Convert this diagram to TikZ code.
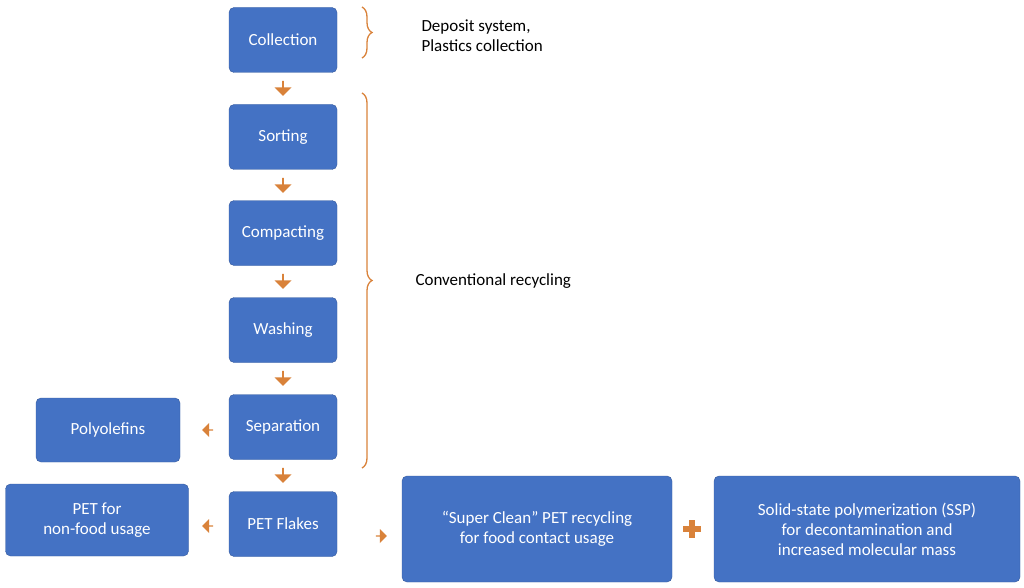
\documentclass[tikz,border=0pt]{standalone}
\usepackage{fontspec}
\setmainfont{Carlito}
\usetikzlibrary{shapes.arrows,decorations.pathreplacing}
\definecolor{boxblue}{HTML}{4472C4}
\definecolor{accent}{HTML}{D9823A}
\begin{document}
\begin{tikzpicture}[x=1pt,y=-1pt,
    stage/.style={fill=boxblue, draw=boxblue!80!black, rounded corners=5pt, text=white,
      align=center, font=\fontsize{17}{20}\selectfont, inner sep=0pt},
    blk/.style={single arrow, fill=accent, draw=none, minimum height=15pt,
      minimum width=17pt, single arrow head extend=2pt, inner sep=0pt},
    brace/.style={draw=accent, line width=1.3pt, decorate,
      decoration={brace, amplitude=10pt}},
    note/.style={font=\fontsize{17}{20}\selectfont, align=left, anchor=west}]
  \useasboundingbox (0,0) rectangle (1024,588);

  % main column
  \node[stage, minimum width=108pt, minimum height=65pt] (collection) at (283,40) {Collection};
  \node[stage, minimum width=108pt, minimum height=65pt] (sorting) at (283,137) {Sorting};
  \node[stage, minimum width=108pt, minimum height=65pt] (compacting) at (283,233) {Compacting};
  \node[stage, minimum width=108pt, minimum height=65pt] (washing) at (283,330) {Washing};
  \node[stage, minimum width=108pt, minimum height=65pt] (separation) at (283,427) {Separation};
  \node[stage, minimum width=108pt, minimum height=65pt] (flakes) at (283,524) {PET Flakes};

  % side boxes
  \node[stage, minimum width=144pt, minimum height=64pt] (polyolefins) at (108,430) {Polyolefins};
  \node[stage, minimum width=183pt, minimum height=72pt] (nonfood) at (97,520) {PET for\\non-food usage};
  \node[stage, minimum width=270pt, minimum height=106pt] (superclean) at (537,529) {``Super Clean'' PET recycling\\for food contact usage};
  \node[stage, minimum width=306pt, minimum height=106pt] (ssp) at (867,529) {Solid-state polymerization (SSP)\\for decontamination and\\increased molecular mass};

  % block arrows
  \node[blk, rotate=-90] (a1) at (283,88) {};
  \node[blk, rotate=-90] (a2) at (283,185) {};
  \node[blk, rotate=-90] (a3) at (283,281) {};
  \node[blk, rotate=-90] (a4) at (283,378) {};
  \node[blk, rotate=-90] (a5) at (283,475) {};
  \node[blk, rotate=180, minimum height=11pt, minimum width=14pt] (a6) at (208,430) {};
  \node[blk, rotate=180, minimum height=11pt, minimum width=14pt] (a7) at (208,526) {};
  \node[blk, minimum height=11pt, minimum width=14pt] (a8) at (381,536) {};

  % plus sign
  \node[fill=accent, minimum width=18pt, minimum height=6pt, inner sep=0pt] (plush) at (692,529) {};
  \node[fill=accent, minimum width=6pt, minimum height=18pt, inner sep=0pt] (plusv) at (692,529) {};

  % braces
  \coordinate (b1t) at (362,7);
  \coordinate (b1b) at (362,58);
  \coordinate (b2t) at (362,93);
  \coordinate (b2b) at (362,468);
  \draw[brace] (b1t) -- (b1b);
  \draw[brace] (b2t) -- (b2b);
  \node[note] (deposit) at (418,36) {Deposit system,\\Plastics collection};
  \node[note] (conv) at (412,281) {Conventional recycling};
\end{tikzpicture}
\end{document}
